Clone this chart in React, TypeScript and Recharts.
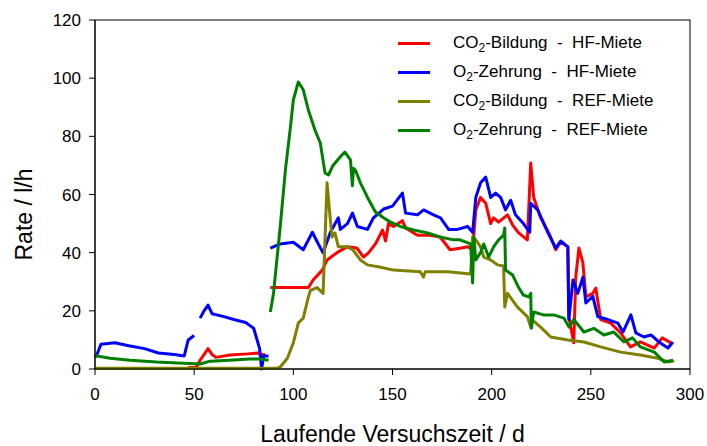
import React from "react";
import {
  LineChart,
  Line,
  XAxis,
  YAxis,
  Legend,
} from "recharts";

// day / rate pairs, null = gap in the record
const co2HfDays = [
  47, 51, 53, 56, 57, 59, 61, 68, 77, 82, 85, 86, 87,
  88.4, 100, 107.6, 110, 114.6, 117, 122, 127, 132, 135.4, 138, 141.4, 145, 146.5, 148,
  150.5, 155, 156.6, 162.6, 169, 174, 179, 184, 188, 190.4, 192, 194.4, 197, 199.5, 201,
  203.5, 208, 210.6, 213.6, 218, 219.7, 221.2, 224.7, 228.8, 232.3, 234.8, 238.4, 238.9,
  241.4, 242.4, 244, 246, 247.5, 251, 252.5, 255, 260, 265, 270, 275, 282, 286, 290.4,
];
const co2HfRate = [
  0.5, 0.5, 3, 6, 7, 5, 4, 4.8, 5.2, 5.5, 4.8, 5, null,
  28, 28, 28, 30.6, 34, 37.5, 40, 42, 41.6, 38.5, 40, 43, 47.8, 44, 50,
  49, 51, 48.5, 46, 46, 45.4, 41, 41.5, 42, 41, 54.7, 59, 57, 50, 52,
  50.5, 53, 49.5, 46.8, 44.4, 70.8, 59, 52, 46.8, 41, 43.7, 42, 18,
  9, 31.6, 41.6, 36.5, 24.8, 26, 27.8, 17, 15.8, 12.4, 7.6, 9.3, 7.2, 10.7, 9,
];

const o2HfDays = [
  0, 1, 3, 10, 17, 25, 32, 40, 45, 47, 50, 51.5, 53, 55, 57, 59, 65, 70, 76, 78, 80, 83,
  84, 85, 87.5, 88,
  88.4, 93.4, 100, 105, 109.6, 112.6, 115, 118.7, 122.7, 123.7, 127.3, 129.8, 132.3,
  137.4, 140.4, 145.5, 150, 155, 156.6, 162.6, 165.7, 170.7, 174.2, 178.3, 182.8, 187.9,
  190.4, 192, 194.4, 197, 199.5, 202, 204.5, 207, 209.6, 212, 216, 219.2, 219.7, 223.2,
  228.3, 232.3, 234.8, 238.4, 238.9, 241, 243.4, 246, 247.5, 251, 253.5, 258.6, 263.6,
  266.2, 270.2, 272.7, 276.8, 280.3, 284.3, 288.9, 291.4,
];
const o2HfRate = [
  4, 5, 8.5, 9, 8, 7, 5.5, 5, 4.5, 10, 11.5, null, 17.5, 20, 22, 19, 18, 17, 16, 15, 14, 7,
  0, 4.5, 4.5, null,
  41.6, 43, 43.6, 41, 47, 43, 40, 47, 52, 48, 50, 53.6, 49,
  48, 52, 55, 56, 60.5, 53.6, 53, 54.7, 53, 52, 48, 48, 49,
  47, 59, 64, 66, 59, 60.5, 59, 54.7, 58, 53, 50, 47, 57, 54.7,
  47, 41.6, 44, 42, 17, 30.6, 26, 31.6, 22.7, 25, 18, 17, 15.8,
  12.7, 18.6, 12.4, 11, 11.7, 9.3, 7.2, 9.3,
];

const co2RefDays = [
  0, 92, 93.4, 97, 100, 102.5, 105, 107.6, 108.6, 112, 115, 117, 118.7, 119.6, 121, 122.7,
  127, 130, 133.8, 137.4, 144, 150.5, 164, 165.6, 166.5, 177.8, 189.4, 190.4, 192, 194.4,
  196, 199.5, 203, 206, 206.6, 208, 213, 218, 219.7, 220.3, 224.7, 229.8, 238.4, 246.5,
  255, 265, 275, 283.8, 289, 292,
];
const co2RefRate = [
  0.3, 0.3, 0.7, 3.7, 9, 15.8, 17.5, 24.8, 27, 28, 26, 64, 51, 45.4, 46.8, 42,
  42, 41, 37.5, 35.8, 35, 34, 33.4, 31.6, 33.4, 33.4, 32.7, 45.4, 44.4, 42,
  38.5, 37.5, 35.8, 35.4, 21.3, 26, 21.3, 18, 14.4, 17, 14.4, 11, 10, 9.3,
  7.6, 5.8, 4.8, 3.7, 2.4, 2.8,
];

const o2RefDays = [
  0, 1, 7.6, 17.7, 31, 44.4, 53, 58, 68, 78, 83, 87.5, 88,
  88.4, 90, 93.4, 96, 98.5, 100, 102.5, 105, 107.6, 111, 113.6, 116, 117.7, 120, 123.7,
  126, 128.8, 129.8, 130.3, 131.3, 133.8, 137.4, 141.4, 145.5, 149, 154, 160.6, 167.7,
  174, 180.8, 184, 189.4, 190.4, 191, 192, 194.4, 196, 198.5, 201, 203.5, 206, 206.6,
  207, 210.6, 213.6, 216, 218.7, 219.7, 220, 221.2, 226, 231.3, 236.4, 239, 241.4, 246.5,
  251.5, 256.6, 261.6, 266.7, 271, 275, 282, 287, 291.4,
];
const o2RefRate = [
  4.8, 4.5, 3.7, 3, 2.4, 2, 1.7, 2.7, 3, 3.4, 3.4, 3, null,
  19.6, 26, 49, 68.4, 83, 92.5, 98.7, 96, 89, 82, 77.7, 67.4, 66.7, 70, 73,
  74.6, 71.9, 63, 69, 68.4, 64, 59, 54, 52, 50.5, 49, 47.8, 46.8,
  45.4, 44.4, 44.4, 43, 29.6, 45.4, 37.5, 40, 43, 38.5, 42, 44.4, 46, 48.5,
  34, 32.3, 28, 25.4, 24.8, 26, 14, 19.6, 18.6, 18.6, 17.5, 14.4, 17, 12.7,
  14, 11.7, 12.7, 9.3, 10.7, 7.6, 5.8, 2.4, 3,
];

const xTicks = [0, 50, 100, 150, 200, 250, 300];
const yTicks = [0, 20, 40, 60, 80, 100, 120];

const seriesNames = [
  "CO2-Bildung - HF-Miete",
  "O2-Zehrung - HF-Miete",
  "CO2-Bildung - REF-Miete",
  "O2-Zehrung - REF-Miete",
];
const legendParts = [
  { pre: "CO", sub: "2", post: "-Bildung  -  HF-Miete" },
  { pre: "O", sub: "2", post: "-Zehrung  -  HF-Miete" },
  { pre: "CO", sub: "2", post: "-Bildung  -  REF-Miete" },
  { pre: "O", sub: "2", post: "-Zehrung  -  REF-Miete" },
];
const colors = ["#ff0000", "#0000ff", "#808000", "#008000"];

const toPoints = (days: number[], rate: (number | null)[]) =>
  days.map((d, i) => ({ d, v: rate[i] }));

const series = [
  toPoints(co2HfDays, co2HfRate),
  toPoints(o2HfDays, o2HfRate),
  toPoints(co2RefDays, co2RefRate),
  toPoints(o2RefDays, o2RefRate),
];

const font = "'Liberation Sans', Arial, sans-serif";
const margin = { top: 20, right: 17, bottom: 37, left: 35 };
const yAxisWidth = 60;
const xAxisHeight = 40;
const W = 707;
const H = 446;

function LegendBox() {
  return (
    <div style={{ fontFamily: font, fontSize: 17, color: "#000" }}>
      {legendParts.map((p, i) => (
        <div key={i} style={{ display: "flex", alignItems: "center", height: 29 }}>
          <span
            style={{ display: "inline-block", width: 32, height: 3, background: colors[i], marginRight: 23 }}
          />
          <span style={{ whiteSpace: "pre", lineHeight: "20px" }}>
            {p.pre}
            <span style={{ fontSize: 12, position: "relative", top: 4 }}>{p.sub}</span>
            {p.post}
          </span>
        </div>
      ))}
    </div>
  );
}

export default function App() {
  const plotLeft = margin.left + yAxisWidth;
  const plotWidth = W - plotLeft - margin.right;
  const plotHeight = H - margin.top - margin.bottom - xAxisHeight;
  return (
    <div style={{ position: "absolute", left: 0, top: 0, width: W, height: H, background: "#fff" }}>
      <LineChart width={W} height={H} margin={margin}>
        {/* plot frame (top and right edges) */}
        <rect
          x={plotLeft}
          y={margin.top}
          width={plotWidth}
          height={plotHeight}
          fill="none"
          stroke="#000"
          strokeWidth={1}
        />
        <XAxis
          type="number"
          dataKey="d"
          domain={[0, 300]}
          ticks={xTicks}
          allowDuplicatedCategory={false}
          stroke="#000"
          height={xAxisHeight}
          tickMargin={13}
          tick={{ fill: "#000", fontSize: 17, fontFamily: font }}
          label={{
            content: (props: any) => {
              const vb = props.viewBox || {};
              return (
                <text
                  x={vb.x + vb.width / 2}
                  y={434}
                  textAnchor="middle"
                  dominantBaseline="central"
                  fontSize={23}
                  fontFamily={font}
                  fill="#000"
                >
                  Laufende Versuchszeit / d
                </text>
              );
            },
          }}
        />
        <YAxis
          type="number"
          domain={[0, 120]}
          ticks={yTicks}
          stroke="#000"
          width={yAxisWidth}
          tickMargin={8}
          tick={{ fill: "#000", fontSize: 17, fontFamily: font }}
          label={{
            content: (props: any) => {
              const vb = props.viewBox || {};
              const cy = vb.y + vb.height / 2 + 20;
              return (
                <text
                  x={24}
                  y={cy}
                  transform={`rotate(-90 24 ${cy})`}
                  textAnchor="middle"
                  dominantBaseline="central"
                  fontSize={23}
                  fontFamily={font}
                  fill="#000"
                >
                  Rate / l/h
                </text>
              );
            },
          }}
        />
        {series.map((data, i) => (
          <Line
            key={seriesNames[i]}
            data={data}
            dataKey="v"
            name={seriesNames[i]}
            type="linear"
            stroke={colors[i]}
            strokeWidth={3}
            strokeLinejoin="round"
            dot={false}
            activeDot={false}
            connectNulls={false}
            isAnimationActive={false}
          />
        ))}
        <Legend
          layout="horizontal"
          verticalAlign="middle"
          align="center"
          content={() => <LegendBox />}
          wrapperStyle={{ left: 398, top: 29, width: 290 }}
        />
      </LineChart>
    </div>
  );
}
